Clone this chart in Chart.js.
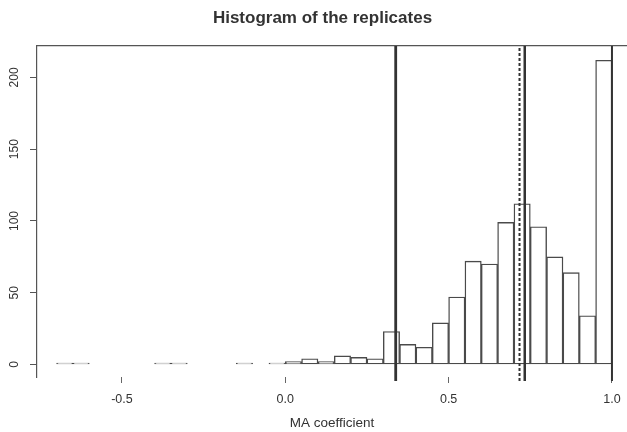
<!DOCTYPE html>
<html>
<head>
<meta charset="utf-8">
<script src="https://cdn.jsdelivr.net/npm/chart.js@4/dist/chart.umd.min.js"></script>
<style>
  html, body { margin: 0; padding: 0; background: #fff; }
</style>
</head>
<body>
<canvas id="hist" width="627" height="432"></canvas>
<script>
// histogram bins, 0.05 wide, from -0.70 to 1.00 (centres)
const binCenters = [-0.675, -0.625, -0.575, -0.525, -0.475, -0.425, -0.375, -0.325,
  -0.275, -0.225, -0.175, -0.125, -0.075, -0.025, 0.025, 0.075, 0.125, 0.175,
  0.225, 0.275, 0.325, 0.375, 0.425, 0.475, 0.525, 0.575, 0.625, 0.675,
  0.725, 0.775, 0.825, 0.875, 0.925, 0.975];
const counts = [1, 1, 0, 0, 0, 0, 1, 1,
  0, 0, 0, 1, 0, 1, 2, 4, 2, 6,
  5, 4, 23, 14, 12, 29, 47, 72, 70, 99,
  112, 96, 75, 64, 34, 212];

// vertical reference lines
const refLines = [0.338, 0.717, 0.733, 1.0];
const refWidths = [2.8, 2, 2.5, 2];
const refDashes = [[], [3, 2], [], []];

const xTickValues = [-0.5, 0, 0.5, 1];
const xTickLabels = ['-0.5', '0.0', '0.5', '1.0'];
const yTickValues = [0, 50, 100, 150, 200];

const X_MIN = -0.760, X_MAX = 1.046;
const Y_MIN = -8.7, Y_MAX = 221.9;

Chart.defaults.font.family = '"Liberation Sans", Arial, sans-serif';
Chart.defaults.color = '#333';

let bars = [];
for (let i = 0; i < binCenters.length; i++) {
  bars.push({ x: binCenters[i], y: counts[i] });
}

let lineSets = refLines.map(function (v, i) {
  return {
    type: 'line',
    data: [{ x: v, y: -11.5 }, { x: v, y: Y_MAX }],
    borderColor: '#333',
    borderWidth: refWidths[i],
    borderDash: refDashes[i],
    pointRadius: 0,
    clip: false,
    order: 0
  };
});

// title is centred a bit right of the page centre, like the plot region
const shiftTitle = {
  id: 'shiftTitle',
  afterLayout: function (chart) {
    if (chart.titleBlock) chart.titleBlock.left = 18;
  }
};

new Chart(document.getElementById('hist'), {
  type: 'bar',
  data: {
    datasets: lineSets.concat([{
      data: bars,
      backgroundColor: '#ffffff',
      borderColor: '#4a4a4a',
      borderWidth: 1.4,
      borderSkipped: false,
      barPercentage: 1,
      categoryPercentage: 1,
      order: 1
    }])
  },
  plugins: [shiftTitle],
  options: {
    responsive: false,
    animation: false,
    devicePixelRatio: 1,
    layout: { padding: 0 },
    plugins: {
      legend: { display: false },
      tooltip: { enabled: false },
      title: {
        display: true,
        text: 'Histogram of the replicates',
        color: '#333',
        font: { size: 17, weight: 'bold' },
        padding: { top: 8, bottom: 17.6 }
      }
    },
    scales: {
      x: {
        type: 'linear',
        min: X_MIN,
        max: X_MAX,
        offset: false,
        afterBuildTicks: function (s) { s.ticks = xTickValues.map(v => ({ value: v })); },
        afterFit: function (s) { s.height = 55; },
        ticks: {
          font: { size: 12.5, lineHeight: 2.0 },
          padding: 4,
          maxRotation: 0,
          callback: function (v) { return xTickLabels[xTickValues.indexOf(v)]; }
        },
        grid: { offset: false, drawOnChartArea: false, drawTicks: true, tickLength: 6, color: '#666' },
        border: { display: false },
        title: {
          display: true,
          text: 'MA coefficient',
          font: { size: 13.5 },
          padding: { top: 0, bottom: 1 }
        }
      },
      x2: {
        type: 'linear',
        position: 'top',
        min: X_MIN,
        max: X_MAX,
        offset: false,
        afterFit: function (s) { s.height = 0; },
        ticks: { display: false },
        grid: { display: false },
        border: { display: true, color: '#555', width: 1.2 }
      },
      y: {
        type: 'linear',
        min: Y_MIN,
        max: Y_MAX,
        afterBuildTicks: function (s) { s.ticks = yTickValues.map(v => ({ value: v })); },
        afterFit: function (s) { s.width = 37; },
        ticks: {
          font: { size: 12 },
          minRotation: 90,
          maxRotation: 90,
          crossAlign: 'center',
          padding: 5
        },
        grid: { drawOnChartArea: false, drawTicks: true, tickLength: 7, color: '#555' },
        border: { display: true, color: '#555', width: 1.2 }
      }
    }
  }
});
</script>
</body>
</html>
